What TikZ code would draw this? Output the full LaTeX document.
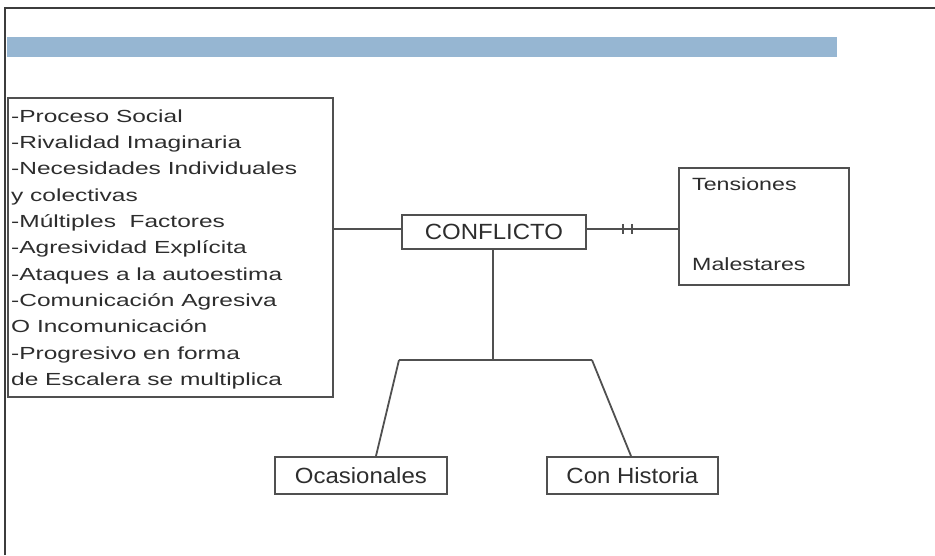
\documentclass[tikz,border=0pt]{standalone}
\usepackage{fontspec}
\setmainfont{Liberation Sans}
\newfontfamily\widefont[FakeStretch=1.4]{Liberation Sans}
\newfontfamily\midfont[FakeStretch=1.31]{Liberation Sans}
\newfontfamily\labfont[FakeStretch=1.09]{Liberation Sans}
\definecolor{framec}{RGB}{60,60,60}
\definecolor{linec}{RGB}{80,80,80}
\definecolor{txtc}{RGB}{45,45,45}
\definecolor{barc}{RGB}{150,182,210}
\tikzset{
  boxc/.style={draw=linec, line width=1.8pt, inner sep=0pt},
  lab/.style={text=txtc, font=\labfont\fontsize{22}{26}\selectfont, inner sep=0pt},
  small/.style={text=txtc, font=\midfont\fontsize{17.7}{22}\selectfont, inner sep=0pt},
  conn/.style={draw=linec, line width=1.8pt},
  tick/.style={draw=linec, line width=2.2pt},
}
\begin{document}
\begin{tikzpicture}[x=1pt,y=-1pt]
\useasboundingbox (0,0) rectangle (935,555);
% outer frame
\draw[framec, line width=1.3pt] (5,555) -- (5,8) -- (935,8);
% blue band
\fill[barc] (7,37) rectangle (837,57);
% left box
\node[boxc, minimum width=325pt, minimum height=299pt, anchor=north west] (leftbox) at (7,97) {};
\node[anchor=north west, inner sep=0pt, align=left, text=txtc,
      font=\widefont\fontsize{17.5}{26.3}\selectfont] (lefttext) at (11,109.5)
 {-Proceso Social\\-Rivalidad Imaginaria\\-Necesidades Individuales\\y colectivas\\-Múltiples\ \ Factores\\-Agresividad Explícita\\-Ataques a la autoestima\\-Comunicación Agresiva\\O Incomunicación\\-Progresivo en forma\\de Escalera se multiplica};
% CONFLICTO
\node[boxc, minimum width=184pt, minimum height=34pt, anchor=north west] (conf) at (401,214) {};
\node[lab] (conftext) at (conf.center) {CONFLICTO};
% Tensiones box
\node[boxc, minimum width=170pt, minimum height=117pt, anchor=north west] (tens) at (678,167) {};
\node[small, anchor=base west] (tensA) at (692,190) {Tensiones};
\node[small, anchor=base west] (tensB) at (692,270) {Malestares};
% bottom boxes
\node[boxc, minimum width=172pt, minimum height=37pt, anchor=north west] (ocas) at (274,456) {};
\node[lab] (ocastext) at (ocas.center) {Ocasionales};
\node[boxc, minimum width=171pt, minimum height=37pt, anchor=north west] (hist) at (546,456) {};
\node[lab] (histtext) at (hist.center) {Con Historia};
% connectors
\coordinate (cl) at ([yshift=3pt]conf.west);
\coordinate (cr) at ([yshift=3pt]conf.east);
\draw[conn] (leftbox.east |- cl) -- (cl);
\draw[conn] (cr) -- (tens.west |- cr);
\draw[tick] ([xshift=36pt]cr) ++(0,-5) -- ++(0,10);
\draw[tick] ([xshift=45pt]cr) ++(0,-5) -- ++(0,10);
\coordinate (j) at (493,360);
\coordinate (jl) at (399,360);
\coordinate (jr) at (592,360);
\draw[conn] (conf.south -| j) -- (j);
\draw[conn, line join=round] (jl) -- (jr);
\draw[conn] (jl) -- (ocas.north -| 376,0);
\draw[conn] (jr) -- (hist.north -| 631,0);
\end{tikzpicture}
\end{document}
